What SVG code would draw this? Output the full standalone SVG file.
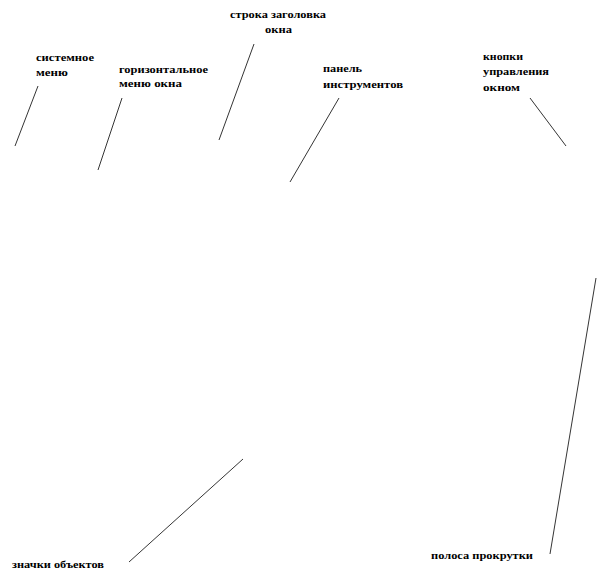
<svg xmlns="http://www.w3.org/2000/svg" width="599" height="580" viewBox="0 0 599 580">
<style>
text{font-family:'Liberation Serif','DejaVu Serif',serif;font-weight:bold;font-size:11px;fill:#000}
.c line{stroke:#000;stroke-width:0.8;fill:none}
</style>
<rect width="599" height="580" fill="#fff"/>
<g id="lbl-system-menu">
<text x="36" y="61" textLength="58" lengthAdjust="spacingAndGlyphs">системное</text>
<text x="36" y="76" textLength="32" lengthAdjust="spacingAndGlyphs">меню</text>
</g>
<g id="lbl-horizontal-menu">
<text x="119" y="73" textLength="89" lengthAdjust="spacingAndGlyphs">горизонтальное</text>
<text x="119" y="87" textLength="63" lengthAdjust="spacingAndGlyphs">меню окна</text>
</g>
<g id="lbl-title-bar">
<text x="230" y="18" textLength="96" lengthAdjust="spacingAndGlyphs">строка заголовка</text>
<text x="265" y="33" textLength="27" lengthAdjust="spacingAndGlyphs">окна</text>
</g>
<g id="lbl-toolbar">
<text x="323" y="72" textLength="39" lengthAdjust="spacingAndGlyphs">панель</text>
<text x="323" y="88" textLength="80" lengthAdjust="spacingAndGlyphs">инструментов</text>
</g>
<g id="lbl-window-buttons">
<text x="483" y="60" textLength="40" lengthAdjust="spacingAndGlyphs">кнопки</text>
<text x="483" y="75" textLength="66" lengthAdjust="spacingAndGlyphs">управления</text>
<text x="483" y="91" textLength="37" lengthAdjust="spacingAndGlyphs">окном</text>
</g>
<g id="lbl-icons">
<text x="12" y="568" textLength="92" lengthAdjust="spacingAndGlyphs">значки объектов</text>
</g>
<g id="lbl-scrollbar">
<text x="431" y="559" textLength="102" lengthAdjust="spacingAndGlyphs">полоса прокрутки</text>
</g>
<g id="connectors" class="c">
<line x1="38" y1="86" x2="15" y2="146"/>
<line x1="122" y1="98" x2="98" y2="170"/>
<line x1="254" y1="44" x2="219" y2="140"/>
<line x1="339" y1="98" x2="290" y2="182"/>
<line x1="530" y1="98" x2="566" y2="146"/>
<line x1="243" y1="459" x2="129" y2="562"/>
<line x1="596" y1="278" x2="550" y2="554"/>
</g>
</svg>
